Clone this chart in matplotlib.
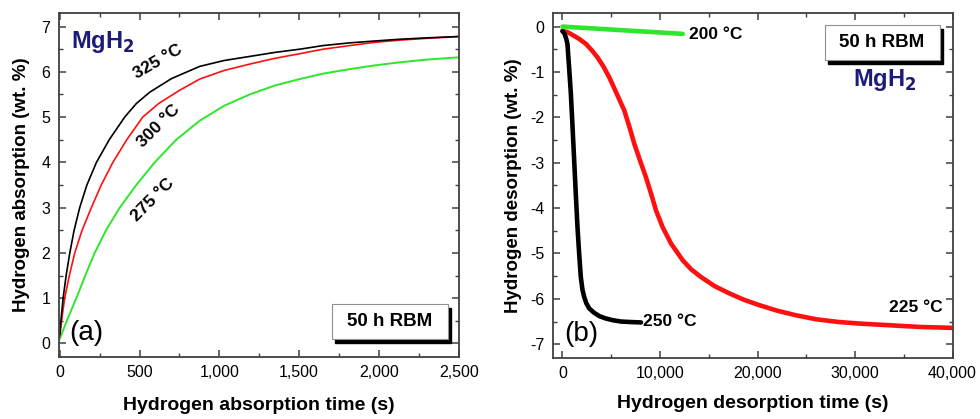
import matplotlib
matplotlib.use('Agg')
import matplotlib.pyplot as plt
from matplotlib.patches import Rectangle
from matplotlib.ticker import MultipleLocator, FuncFormatter

plt.rcParams['font.family'] = ['Liberation Sans', 'DejaVu Sans']
plt.rcParams['axes.unicode_minus'] = False

# (a) absorption, 50 h RBM MgH2
t_325 = [0, 10, 21, 40, 63, 90, 125, 170, 230, 310, 407, 480, 564, 700, 877,
         1030, 1190, 1350, 1504, 1650, 1817, 1970, 2130, 2300, 2500]
h_325 = [0.2, 0.6, 1.0, 1.5, 2.0, 2.5, 3.0, 3.5, 4.0, 4.5, 5.0, 5.3, 5.55, 5.85, 6.12,
         6.25, 6.34, 6.43, 6.5, 6.58, 6.64, 6.68, 6.72, 6.75, 6.78]
t_300 = [0, 15, 31, 60, 94, 140, 198, 260, 333, 420, 520, 620, 750, 877, 1030,
         1190, 1350, 1504, 1650, 1817, 1970, 2130, 2300, 2500]
h_300 = [0.15, 0.6, 1.0, 1.5, 2.0, 2.5, 3.0, 3.5, 4.0, 4.5, 5.0, 5.3, 5.59, 5.84, 6.03,
         6.17, 6.3, 6.4, 6.5, 6.58, 6.65, 6.7, 6.74, 6.78]
t_275 = [0, 50, 104, 160, 219, 290, 376, 480, 595, 730, 877, 1030, 1190, 1350,
         1504, 1650, 1817, 1970, 2130, 2300, 2500]
h_275 = [0.1, 0.55, 1.0, 1.5, 2.0, 2.5, 3.0, 3.5, 4.0, 4.5, 4.92, 5.25, 5.5, 5.7,
         5.84, 5.96, 6.06, 6.14, 6.21, 6.27, 6.32]

# (b) desorption
t_200 = [0, 12330]
d_200 = [0.0, -0.16]
t_250 = [0, 200, 400, 510, 680, 860, 1030, 1200, 1370, 1540, 1710, 1880, 2050,
         2230, 2450, 2740, 3200, 3770, 4400, 5140, 6000, 6850, 8050]
d_250 = [-0.1, -0.15, -0.28, -0.38, -0.9, -1.48, -2.2, -2.95, -3.7, -4.42, -5.0,
         -5.52, -5.8, -5.96, -6.1, -6.21, -6.3, -6.38, -6.43, -6.47, -6.5, -6.51, -6.52]
t_225 = [0, 500, 1000, 1700, 2400, 3000, 3600, 4200, 4800, 5400, 5900, 6340, 6850,
         7360, 7950, 8560, 9080, 9590, 10270, 11130, 12330, 13200, 14210, 15600,
         17120, 18600, 20200, 22000, 23900, 26000, 28300, 30800, 33400, 36700, 40000]
d_225 = [-0.1, -0.12, -0.18, -0.27, -0.38, -0.52, -0.68, -0.88, -1.12, -1.4, -1.64,
         -1.85, -2.2, -2.58, -2.95, -3.32, -3.68, -4.05, -4.42, -4.78, -5.15, -5.35,
         -5.52, -5.72, -5.88, -6.02, -6.14, -6.26, -6.36, -6.45, -6.51, -6.55, -6.58,
         -6.62, -6.64]

GREEN = '#2ee62e'
RED = '#ff1010'
NAVY = '#1c1c78'
SPINE = '#404040'


def style_axes(ax):
    for s in ax.spines.values():
        s.set_color(SPINE)
        s.set_linewidth(1.3)
    ax.tick_params(which='both', direction='in', top=True, right=True,
                   color=SPINE, labelsize=11.5)
    ax.tick_params(which='major', length=5, width=1.1, pad=6)
    ax.tick_params(which='minor', length=3, width=1.0)
    ax.xaxis.set_major_formatter(FuncFormatter(lambda v, p: f'{v:,.0f}'))


def rbm_box(ax, x0, y0, w, h):
    ax.add_patch(Rectangle((x0 + 0.008, y0 - 0.012), w, h, transform=ax.transAxes,
                           fc='black', ec='black', zorder=5))
    ax.add_patch(Rectangle((x0, y0), w, h, transform=ax.transAxes,
                           fc='white', ec='#909090', lw=0.8, zorder=6))
    ax.text(x0 + w / 2, y0 + h / 2, '50 h RBM', transform=ax.transAxes,
            ha='center', va='center', fontsize=13.5, fontweight='bold', zorder=7)


fig = plt.figure(figsize=(9.8, 4.19), dpi=100)
ax1 = fig.add_axes([0.060, 0.148, 0.408, 0.821])
ax2 = fig.add_axes([0.564, 0.146, 0.408, 0.823])

# panel (a)
ax1.plot(t_275, h_275, color=GREEN, lw=1.4)
ax1.plot(t_300, h_300, color=RED, lw=1.2)
ax1.plot(t_325, h_325, color='black', lw=1.2)
ax1.set_xlim(-6, 2500)
ax1.set_ylim(-0.3, 7.3)
ax1.xaxis.set_major_locator(MultipleLocator(500))
ax1.xaxis.set_minor_locator(MultipleLocator(250))
ax1.yaxis.set_major_locator(MultipleLocator(1))
ax1.yaxis.set_minor_locator(MultipleLocator(0.5))
style_axes(ax1)
ax1.set_xlabel('Hydrogen absorption time (s)', fontsize=14, fontweight='bold', labelpad=12)
ax1.set_ylabel('Hydrogen absorption (wt. %)', fontsize=13.5, fontweight='bold', labelpad=8)
ax1.text(614, 6.22, '325 °C', rotation=30, ha='center', va='center',
         fontsize=12.5, fontweight='bold')
ax1.text(622, 4.81, '300 °C', rotation=45, ha='center', va='center',
         fontsize=12.5, fontweight='bold')
ax1.text(580, 3.16, '275 °C', rotation=45, ha='center', va='center',
         fontsize=12.5, fontweight='bold')
ax1.text(0.03, 0.915, 'MgH$_\\mathbf{2}$', transform=ax1.transAxes, ha='left', va='center',
         fontsize=17, fontweight='bold', color=NAVY)
ax1.text(0.025, 0.07, '(a)', transform=ax1.transAxes, ha='left', va='center', fontsize=20)
rbm_box(ax1, 0.683, 0.052, 0.29, 0.102)

# panel (b)
ax2.plot(t_225, d_225, color=RED, lw=3.3, solid_capstyle='round')
ax2.plot(t_250, d_250, color='black', lw=3.3, solid_capstyle='round')
ax2.plot(t_200, d_200, color=GREEN, lw=3.3, solid_capstyle='round')
ax2.set_xlim(-1000, 40000)
ax2.set_ylim(-7.3, 0.3)
ax2.xaxis.set_major_locator(MultipleLocator(10000))
ax2.xaxis.set_minor_locator(MultipleLocator(5000))
ax2.yaxis.set_major_locator(MultipleLocator(1))
ax2.yaxis.set_minor_locator(MultipleLocator(0.5))
style_axes(ax2)
ax2.set_xlabel('Hydrogen desorption time (s)', fontsize=14, fontweight='bold', labelpad=10)
ax2.set_ylabel('Hydrogen desorption (wt. %)', fontsize=13.5, fontweight='bold', labelpad=6)
ax2.text(13000, -0.18, '200 °C', ha='left', va='center', fontsize=12.5, fontweight='bold')
ax2.text(8300, -6.5, '250 °C', ha='left', va='center', fontsize=12.5, fontweight='bold')
ax2.text(36200, -6.2, '225 °C', ha='center', va='center', fontsize=12.5, fontweight='bold')
ax2.text(0.83, 0.806, 'MgH$_\\mathbf{2}$', transform=ax2.transAxes, ha='center', va='center',
         fontsize=17, fontweight='bold', color=NAVY)
ax2.text(0.03, 0.07, '(b)', transform=ax2.transAxes, ha='left', va='center', fontsize=20)
rbm_box(ax2, 0.68, 0.864, 0.2875, 0.101)

fig.savefig('out.png', dpi=100)
